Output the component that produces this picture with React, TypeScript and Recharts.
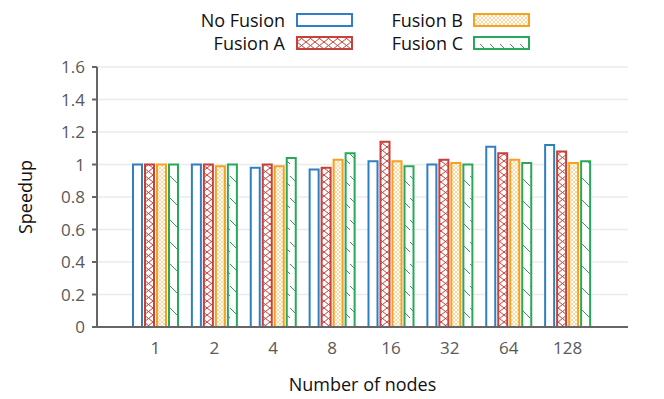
import React from 'react';
import { BarChart, Bar, XAxis, YAxis, CartesianGrid } from 'recharts';

const nodes = ['1', '2', '4', '8', '16', '32', '64', '128'];
const noFusion = [1.0, 1.0, 0.98, 0.97, 1.02, 1.0, 1.11, 1.12];
const fusionA = [1.0, 1.0, 1.0, 0.98, 1.14, 1.03, 1.07, 1.08];
const fusionB = [1.0, 0.99, 0.99, 1.03, 1.02, 1.01, 1.03, 1.01];
const fusionC = [1.0, 1.0, 1.04, 1.07, 0.99, 1.0, 1.01, 1.02];
const yTicks = [0, 0.2, 0.4, 0.6, 0.8, 1, 1.2, 1.4, 1.6];

const data = nodes.map((n, i) => ({
  nodes: n,
  none: noFusion[i],
  a: fusionA[i],
  b: fusionB[i],
  c: fusionC[i],
}));

const BLUE = '#2f7fc1';
const RED = '#c8403a';
const ORANGE = '#f5a21f';
const GREEN = '#2aa85a';
const FONT = '"Open Sans", "Noto Sans", sans-serif';

const series = [
  { key: 'none', name: 'No Fusion', color: BLUE, fill: '#fff' },
  { key: 'a', name: 'Fusion A', color: RED, fill: 'url(#patA)' },
  { key: 'b', name: 'Fusion B', color: ORANGE, fill: 'url(#patB)' },
  { key: 'c', name: 'Fusion C', color: GREEN, fill: 'url(#patC)' },
];

const Patterns = () => (
  <svg width={0} height={0} style={{ position: 'absolute' }}>
    <defs>
      <pattern id="patA" patternUnits="userSpaceOnUse" width={9} height={14}>
        <rect width={9} height={14} fill="#fff" />
        <path d="M0,0 L9,7 L0,14 M9,0 L0,7 L9,14" stroke={RED} strokeWidth={1} fill="none" />
      </pattern>
      <pattern id="patB" patternUnits="userSpaceOnUse" width={4} height={4}>
        <rect width={4} height={4} fill="#fff" />
        <path d="M0,0 L4,4 M4,0 L0,4" stroke={ORANGE} strokeWidth={0.6} fill="none" opacity={0.7} />
      </pattern>
      <pattern id="patC" patternUnits="userSpaceOnUse" width={10} height={22}>
        <rect width={10} height={22} fill="#fff" />
        <path d="M0,0 L10,10" stroke={GREEN} strokeWidth={1} fill="none" />
      </pattern>
    </defs>
  </svg>
);

const YLabel = (props: any) => {
  const vb = props.viewBox || {};
  const cy = vb.y + vb.height / 2;
  return (
    <text x={25} y={cy} transform={`rotate(-90, 25, ${cy})`} textAnchor="middle" dominantBaseline="central"
      fontSize={18} fill="#111" fontFamily={FONT}>
      Speedup
    </text>
  );
};

const Legend = () => {
  const items = [
    { s: series[0], tx: 285, sx: 297, y: 14 },
    { s: series[1], tx: 285, sx: 297, y: 37 },
    { s: series[2], tx: 463, sx: 474, y: 14 },
    { s: series[3], tx: 463, sx: 474, y: 37 },
  ];
  return (
    <svg width={664} height={60} style={{ position: 'absolute', left: 0, top: 0 }}>
      {items.map((it) => (
        <g key={it.s.key}>
          <text x={it.tx} y={it.y + 6} textAnchor="end" dominantBaseline="central" fontSize={18}
            fill="#111" fontFamily={FONT}>
            {it.s.name}
          </text>
          <rect x={it.sx} y={it.y} width={55} height={12} fill={it.s.fill} stroke={it.s.color} strokeWidth={2} />
        </g>
      ))}
    </svg>
  );
};

export default function App() {
  return (
    <div style={{ position: 'absolute', left: 0, top: 0, width: 664, height: 399, background: '#fff' }}>
      <Patterns />
      <BarChart
        width={664}
        height={399}
        data={data}
        margin={{ top: 67, right: 36, bottom: 6, left: 0 }}
        barSize={9}
        barGap={3}
      >
        <CartesianGrid vertical={false} stroke="#ebebeb" strokeWidth={1.5} />
        <XAxis
          dataKey="nodes"
          padding={{ left: 29, right: 31 }}
          tickLine={false}
          tickSize={0}
          tickMargin={15}
          axisLine={{ stroke: '#666', strokeWidth: 2 }}
          tick={{ fill: '#595959', fontSize: 17, fontFamily: FONT }}
          height={66}
          label={{ value: 'Number of nodes', position: 'insideBottom', offset: 2, fill: '#111', fontSize: 18, fontFamily: FONT }}
        />
        <YAxis
          width={97}
          domain={[0, 1.6]}
          ticks={yTicks}
          interval={0}
          tickSize={5}
          tickMargin={7}
          axisLine={{ stroke: '#666', strokeWidth: 2 }}
          tickLine={{ stroke: '#666', strokeWidth: 2 }}
          tick={{ fill: '#595959', fontSize: 17, fontFamily: FONT }}
          label={<YLabel />}
        />
        {series.map((s) => (
          <Bar key={s.key} dataKey={s.key} name={s.name} fill={s.fill} stroke={s.color} strokeWidth={2}
            isAnimationActive={false} />
        ))}
      </BarChart>
      <Legend />
    </div>
  );
}
